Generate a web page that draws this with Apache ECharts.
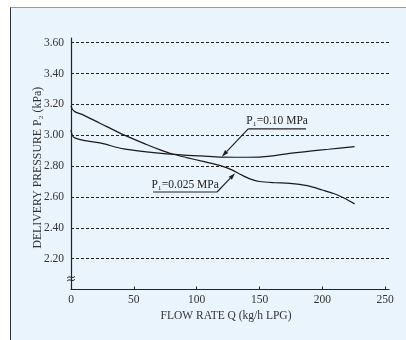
<!DOCTYPE html>
<html><head><meta charset="utf-8">
<script src="https://cdn.jsdelivr.net/npm/echarts@6/dist/echarts.min.js"></script>
<style>
html,body{margin:0;padding:0;background:#fff;}
#wrap{position:relative;width:406px;height:340px;overflow:hidden;background:#fff;}
#panel{position:absolute;left:10px;top:7px;width:400px;height:340px;background:#e9f4fd;border-left:1.5px solid #333;border-top:1.5px solid #999;}
#c{position:absolute;left:0;top:0;width:406px;height:340px;}
</style></head>
<body><div id="wrap"><div id="panel"></div><div id="c"></div></div>
<script>
// Data
var xTicks = [0, 50, 100, 150, 200, 250];
var yTicks = [2.2, 2.4, 2.6, 2.8, 3.0, 3.2, 3.4, 3.6];
var flowA = [0, 1, 3, 10, 23, 42, 60, 71, 80, 92, 105, 120, 128, 135, 143, 150, 162, 174, 188, 200, 209, 218, 225.6];
var pressA = [3.19, 3.17, 3.153, 3.13, 3.078, 3.002, 2.94, 2.905, 2.88, 2.855, 2.83, 2.80, 2.775, 2.745, 2.715, 2.70, 2.692, 2.688, 2.673, 2.645, 2.622, 2.59, 2.555];
var flowB = [0, 1, 3, 10, 23, 42, 60, 76, 90, 103, 120, 135, 150, 162, 174, 190, 205, 225.6];
var pressB = [3.034, 3.0, 2.983, 2.967, 2.95, 2.911, 2.892, 2.879, 2.871, 2.866, 2.858, 2.857, 2.858, 2.868, 2.882, 2.897, 2.909, 2.926];
var labelA = 'P\u2081=0.025 MPa';
var labelB = 'P\u2081=0.10 MPa';
// annotation anchors (data units): underline start, underline end, arrow tip
var annB = {u0: [141, 3.041], u1: [187, 3.041], tip: [120, 2.861]};
var annA = {u0: [65.3, 2.632], u1: [116.2, 2.632], tip: [130.6, 2.754]};

var FONT = '"Liberation Serif", "DejaVu Serif", serif';
function pairs(xs, ys){ return xs.map(function(x,i){return [x, ys[i]];}); }

var chart = echarts.init(document.getElementById('c'), null, {renderer:'canvas'});
chart.setOption({
  animation: false,
  backgroundColor: 'transparent',
  grid: {left: 71, right: 17, top: 38, bottom: 50.5},
  xAxis: {
    type: 'value', min: 0, max: 253, interval: 50,
    name: 'FLOW RATE Q (kg/h LPG)', nameLocation: 'middle', nameGap: 20,
    nameTextStyle: {fontFamily: FONT, fontSize: 11.5, color: '#333', padding:[0,8,0,0]},
    axisLine: {show: true, lineStyle: {color: '#222', width: 1.2}},
    axisTick: {show: true, inside: true, length: 3, lineStyle: {color: '#222'}, customValues: xTicks},
    axisLabel: {fontFamily: FONT, fontSize: 11.5, color: '#333', margin: 4, customValues: xTicks},
    splitLine: {show: false}
  },
  yAxis: {
    type: 'value', min: 2.0, max: 3.63, interval: 0.2,
    name: 'DELIVERY PRESSURE P\u2082 (kPa)', nameLocation: 'middle', nameGap: 27, nameMoveOverlap: false,
    nameTextStyle: {fontFamily: FONT, fontSize: 11.8, color: '#333', padding:[0,8,0,0]},
    axisLine: {show: true, lineStyle: {color: '#222', width: 1.2}},
    axisTick: {show: false},
    axisLabel: {fontFamily: FONT, fontSize: 11.5, color: '#333', margin: 7, customValues: yTicks,
      formatter: function(v){ return v.toFixed(2); }},
    splitLine: {show: true, showMinLine: false, showMaxLine: false, lineStyle: {color: '#222', type: [3, 2], width: 1}}
  },
  series: [
    {type: 'line', data: pairs(flowA, pressA), smooth: 0.3, showSymbol: false, lineStyle: {color: '#1a1a1a', width: 1.2}},
    {type: 'line', data: pairs(flowB, pressB), smooth: 0.3, showSymbol: false, lineStyle: {color: '#1a1a1a', width: 1.2}}
  ]
});

function px(p){ return chart.convertToPixel({gridIndex: 0}, p); }
function annotation(a, text){
  var u0 = px(a.u0), u1 = px(a.u1), t = px(a.tip);
  var s = (Math.abs(u0[0]-t[0]) < Math.abs(u1[0]-t[0])) ? u0 : u1;
  var dx = t[0]-s[0], dy = t[1]-s[1], L = Math.sqrt(dx*dx+dy*dy);
  var ux = dx/L, uy = dy/L, hl = 7, hw = 2.2;
  var bx = t[0]-ux*hl, by = t[1]-uy*hl;
  return [
    {type:'line', shape:{x1:u0[0], y1:u0[1], x2:u1[0], y2:u1[1]}, style:{stroke:'#222', lineWidth:1.2}},
    {type:'line', shape:{x1:s[0], y1:s[1], x2:bx, y2:by}, style:{stroke:'#222', lineWidth:1.2}},
    {type:'polygon', shape:{points:[[t[0],t[1]],[bx-uy*hw, by+ux*hw],[bx+uy*hw, by-ux*hw]]}, style:{fill:'#222'}},
    {type:'text', x:(u0[0]+u1[0])/2, y:u0[1]-1.5, style:{text:text, font:'11.5px ' + FONT, fill:'#222', textAlign:'center', textVerticalAlign:'bottom'}}
  ];
}
var brk = px([0, 2.07]);
var graphics = [].concat(annotation(annB, labelB), annotation(annA, labelA));
graphics.push({type:'rect', shape:{x:brk[0]-1.5, y:brk[1]-1.5, width:3, height:3}, style:{fill:'#e9f4fd'}});
function wave(y){
  return {type:'bezierCurve', shape:{x1:brk[0]-4, y1:y+1, x2:brk[0]+4, y2:y-1, cpx1:brk[0]-1.5, cpy1:y-2.5, cpx2:brk[0]+1.5, cpy2:y+2.5}, style:{stroke:'#222', lineWidth:1, fill:null}};
}
graphics.push(wave(brk[1]-1.5));
graphics.push(wave(brk[1]+1.5));
chart.setOption({graphic: graphics});
</script></body></html>
